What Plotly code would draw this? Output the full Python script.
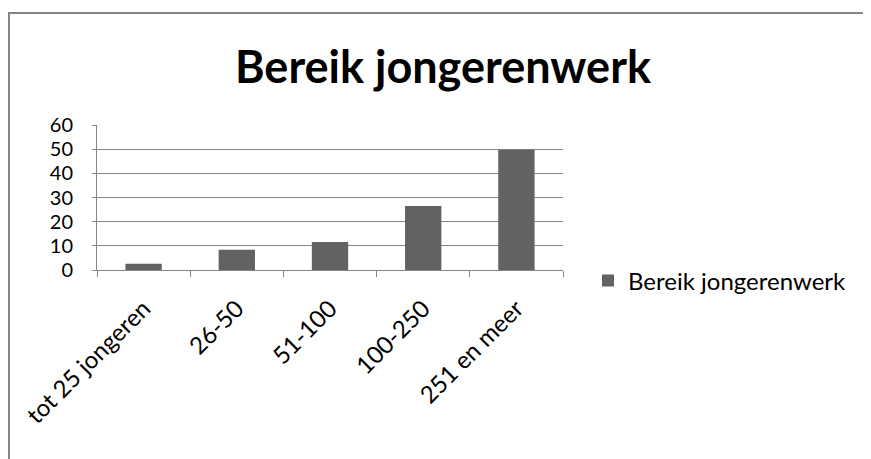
import plotly.graph_objects as go

categories = ["tot 25 jongeren", "26-50", "51-100", "100-250", "251 en meer"]
values = [2.6, 8.4, 11.6, 26.5, 49.8]
series_name = "Bereik jongerenwerk"
title_text = "Bereik jongerenwerk"
y_ticks = [0, 10, 20, 30, 40, 50, 60]

# the page body adds an 8px offset; figure coordinates are page minus 8
W, H = 863, 451
FONT = "Lato"
GRID = "#868686"
BAR = "#626262"
PL, PR, PT, PB = 89, 555, 116.5, 262

fig = go.Figure()
fig.add_trace(go.Bar(
    x=categories, y=values, name=series_name,
    marker=dict(color=BAR, line=dict(width=0)),
    width=0.39, showlegend=True,
))

fig.update_layout(
    width=W, height=H,
    margin=dict(l=PL, r=W - PR, t=PT, b=H - PB, pad=0),
    paper_bgcolor="white", plot_bgcolor="white",
    font=dict(family=FONT, color="black", size=21),
    title=dict(text="<b>" + title_text + "</b>", x=435 / W, xanchor="center",
               y=1 - 59 / H, yanchor="middle", xref="container", yref="container",
               font=dict(family=FONT, size=45, color="black")),
    showlegend=True,
    legend=dict(xref="container", yref="container", x=580 / W, xanchor="left",
                y=1 - 273 / H, yanchor="middle", font=dict(family=FONT, size=24),
                itemwidth=30, bgcolor="rgba(0,0,0,0)"),
)
fig.update_xaxes(
    type="category", showgrid=False, showline=True, linecolor=GRID, linewidth=1,
    ticks="outside", tickson="boundaries", ticklen=6, tickcolor=GRID,
    tickangle=-45, tickfont=dict(family=FONT, size=24, color="black"),
    ticklabelstandoff=14,
)
fig.update_yaxes(
    range=[0, 60], tickvals=y_ticks, showgrid=True, gridcolor=GRID, gridwidth=1,
    showline=True, linecolor=GRID, linewidth=1, ticks="outside", ticklen=4,
    tickcolor=GRID, tickfont=dict(family=FONT, size=20, color="black"),
    zeroline=False, ticklabelstandoff=15,
)
pw, ph = PR - PL, PB - PT
fig.add_shape(type="rect", xref="paper", yref="paper",
              x0=(1 - PL) / pw, x1=(W + 20 - PL) / pw,
              y0=-(H + 20 - PB) / ph, y1=1 + (PT - 4) / ph,
              line=dict(color="#868686", width=2), fillcolor="rgba(0,0,0,0)")

fig.write_html("out.html")
